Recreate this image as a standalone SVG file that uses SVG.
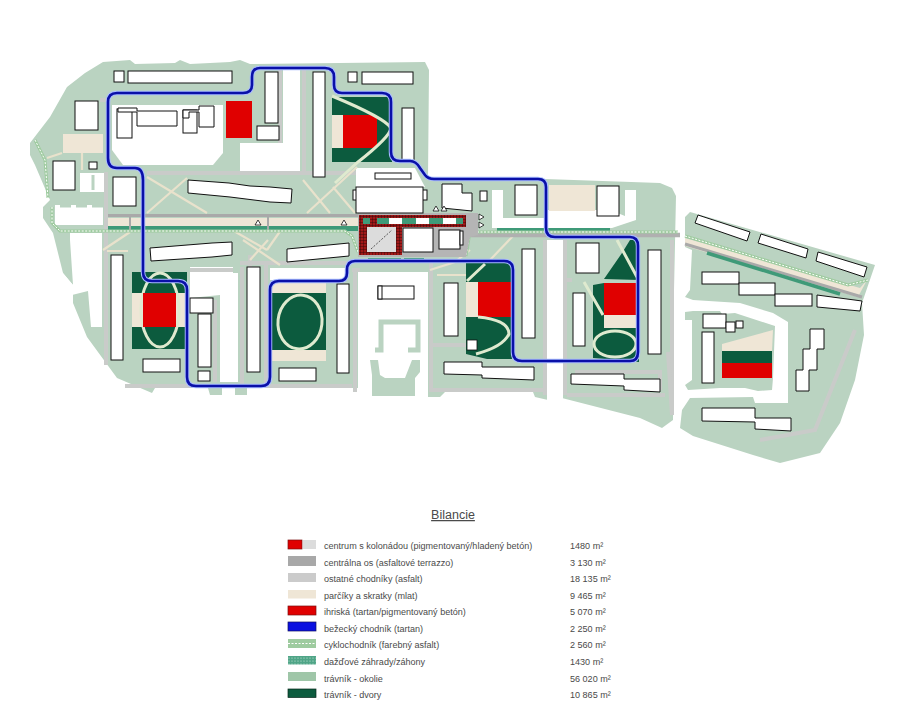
<svg xmlns="http://www.w3.org/2000/svg" width="900" height="720" viewBox="0 0 900 720">
<style>
.gr{fill:#bad3c1}
.wh{fill:#fff}
.rd{stroke:#c9cbc9;fill:none;stroke-width:4}
.pth{stroke:#e9e2cc;fill:none;stroke-width:2.2}
.bg{fill:#efe6d6}
.dk{fill:#0c5b3e}
.red{fill:#e00000}
.pale{fill:none;stroke:#dfeacf;stroke-width:3}
.b polygon,.b rect{fill:#fff;stroke:#111;stroke-width:1}
.cyc{fill:none;stroke:#9ecb9f;stroke-width:3}
.cycd{fill:none;stroke:#fff;stroke-width:1;stroke-dasharray:2 1.5}
.tl{fill:#3f9a78}
.tri{fill:#fff;stroke:#111;stroke-width:.8}
text{font-family:"Liberation Sans",Arial,sans-serif;fill:#4a4a4a;font-size:9.05px}
</style>
<defs>
<pattern id="brick" width="3" height="3" patternUnits="userSpaceOnUse"><rect width="3" height="3" fill="#a01818"/><path d="M0 0H3M0 0V3" stroke="#2a0808" stroke-width=".8"/></pattern>
<pattern id="dots" width="3" height="3" patternUnits="userSpaceOnUse"><rect width="3" height="3" fill="#4fa587"/><circle cx="1" cy="1" r=".6" fill="#cfe8dc"/></pattern>
</defs>
<rect width="900" height="720" fill="#fff"/>
<g id="ground">
<polygon class="gr" points="30,143 50,117 67,87 85,73 103,62 130,60 135,64 175,63 180,60 190,64 230,62 240,60 250,64 425,62 429,70 428,178 545,179 660,183 672,188 676,196 674,290 673,420 662,428 640,418 558,397 548,400 535,397 533,392 445,392 440,397 428,397 425,388 345,388 358,395 372,395 358,395 345,388 247,388 247,395 235,395 235,388 222,388 222,395 210,395 208,388 155,388 152,393 117,378 87,337 73,303 73,285 63,273 53,233 43,218 43,207 50,200 35,165 30,155"/>
<polygon class="gr" points="685,217 690,212 697,214 875,265 862,303 864,335 855,380 840,423 820,453 780,463 753,455 693,436 680,428 682,410 690,398 753,397 755,403 788,403 788,322 773,313 740,303 693,300 685,297 690,290 692,250 685,247"/>
<polygon class="gr" points="685,312 693,311 720,311 722,314 735,313 775,326 773,378 772,390 758,391 745,388 720,388 688,390 685,385 692,380 692,320 685,320"/>
<g class="wh">
<polygon points="112,105 223,105 223,153 213,165 123,165 112,150"/>
<polygon points="283,70 300,70 300,172 240,172 240,143 283,143"/>
<polygon points="356,168 415,168 425,187 356,187"/>
<polygon points="492,190 503,190 503,218 545,218 545,210 610,210 625,216 625,190 636,190 636,220 612,228 492,228"/>
<rect x="80" y="173" width="26" height="19"/>
<rect x="55" y="205" width="48" height="20"/>
<polygon points="70,233 102,233 102,327 91,327 88,291 72,295 55,295 55,270 62,272 73,285 72,270 70,240"/>
<polygon points="190,267 233,267 233,273 238,273 238,382 220,382 220,295 190,298"/>
<rect x="270" y="268" width="77" height="12"/>
<rect x="358" y="272" width="70" height="128"/>
<rect x="547" y="240" width="16" height="162"/>
</g>
<path d="M375,350H381V322H418V350H408" fill="none" stroke="#bad3c1" stroke-width="5"/>
<polygon class="gr" points="370,360 378,360 380,375 385,378 405,378 412,360 420,360 420,372 415,378 415,396 372,396 372,375"/>
<path d="M93,175V190M85,194Q93,200 100,194" fill="none" stroke="#bad3c1" stroke-width="3"/>
<path d="M60,206H103" stroke="#bad3c1" stroke-width="3" stroke-dasharray="11 5" fill="none"/>
</g>
<g id="paths">
<path class="rd" d="M147,173H356M106,172V365M304,70V172M280,70V143M108,100H100M250,255V268M242,267V386M266,262V386M125,386H352M355,272V392M352,270H360M431,262V392M431,345H466M431,390H545M545,240V395M565,240V395M565,280H572M575,372H660V390M567,395H665M672,240V415M240,263H347M215,300V382M190,270H233"/>
<path class="rd" d="M668,352L672,415M855,330L815,430L760,440" stroke-width="2.5"/>
<path class="pth" d="M147,177L207,213M147,213L187,178M303,180L330,213M307,213L357,167M333,187L355,213M103,250L130,232M107,251H128M227,227L267,250M267,250L283,227M243,240L280,265M250,260L268,240M470,250L455,262L430,270M515,234L490,260M47,158L62,153M82,153V170M437,275H466"/>
<rect class="bg" x="63" y="134" width="40" height="19"/>
<rect class="bg" x="549" y="185" width="46" height="26"/>
<rect x="108" y="214" width="250" height="3" fill="#a9a9a9"/>
<rect class="bg" x="108" y="218" width="250" height="8"/>
<rect class="tl" x="108" y="226" width="250" height="5"/>
<path d="M130,217V232M268,217V232" stroke="#a9a9a9" stroke-width="2"/>
<path d="M470,235H680" stroke="#b0b0b0" stroke-width="4.5" fill="none"/>
<rect class="tl" x="497" y="228" width="50" height="3"/>
<rect class="tl" x="547" y="228" width="63" height="3"/>
<polygon class="bg" points="685,238 860,288 867,280 858,297 685,246"/>
<path d="M685,244L862,297" stroke="#a9a9a9" stroke-width="3" fill="none"/>
<path d="M707,253L840,294" stroke="#3f9a78" stroke-width="3.5" fill="none"/>
<path class="cyc" d="M35,140L45,160L48,198M52,207V223L60,231H345L352,236L358,252M470,232L466,256M470,232H678M685,236L848,285L868,280"/>
<path class="cycd" d="M35,140L45,160L48,198M52,207V223L60,231H345L352,236L358,252M470,232L466,256M470,232H678M685,236L848,285L868,280"/>
<rect class="tl" x="368" y="258" width="33" height="4"/>
<rect class="tl" x="404" y="258" width="20" height="4"/>
</g>
<g id="fields">
<polygon class="dk" points="332,97 390,97 392,162 332,162"/>
<rect class="bg" x="332" y="115" width="11" height="33"/>
<rect class="red" x="343" y="115" width="34" height="33"/>
<path class="pale" d="M332,96Q385,118 391,128Q390,137 358,162L335,183"/>
<rect class="red" x="226" y="101" width="26" height="37"/>
<rect class="dk" x="132" y="272" width="55" height="77"/>
<rect class="bg" x="132" y="293" width="53" height="34"/>
<ellipse class="pale" cx="160" cy="310" rx="19" ry="37"/>
<rect class="red" x="143" y="293" width="33" height="34"/>
<rect class="bg" x="272" y="283" width="54" height="78"/>
<rect class="dk" x="270" y="293" width="56" height="57"/>
<ellipse class="pale" cx="300" cy="322" rx="22" ry="27" transform="rotate(6 300 322)"/>
<polygon class="dk" points="466,262 512,262 512,359 487,359 466,354"/>
<rect class="bg" x="466" y="282" width="12" height="35"/>
<rect class="red" x="478" y="282" width="33" height="35"/>
<path class="pale" d="M467,281L485,264M478,317Q509,320 509,334Q503,347 476,354"/>
<rect x="467" y="340" width="10" height="10" fill="#fff" stroke="#111" stroke-width=".8"/>
<polygon class="dk" points="630,240 639,240 639,280 604,279 622,253"/>
<polygon class="dk" points="593,285 604,283 639,283 639,362 593,358"/>
<rect class="red" x="604" y="283" width="33" height="32"/>
<rect class="bg" x="604" y="315" width="33" height="13"/>
<ellipse cx="615" cy="344" rx="21" ry="13" fill="#0c5b3e" stroke="#dfeacf" stroke-width="3"/>
<path class="pale" d="M584,282L603,315M617,240L637,277"/>
<polygon class="bg" points="722,344 773,330 772,351 722,351"/>
<rect class="dk" x="722" y="351" width="50" height="12"/>
<rect class="red" x="722" y="363" width="50" height="15"/>
</g>
<g id="center">
<polygon points="358,213 478,213 478,235 470,237 466,257 358,257" fill="#b5b5b5"/>
<polygon points="359,215 466,215 466,227 402,227 402,255 359,255" fill="url(#brick)"/>
<rect class="tl" x="363" y="218" width="7" height="6"/>
<rect class="tl" x="377" y="218" width="12" height="6"/>
<rect x="389" y="218" width="13" height="6" fill="#fff"/>
<rect class="tl" x="402" y="218" width="14" height="6"/>
<rect x="416" y="218" width="13" height="6" fill="#fff"/>
<rect class="tl" x="429" y="218" width="14" height="6"/>
<rect x="443" y="218" width="13" height="6" fill="#fff"/>
<rect class="tl" x="456" y="218" width="7" height="6"/>
<rect x="367" y="227" width="29" height="25" fill="#dcdcdc"/>
<path d="M371,249L392,230" stroke="#333" stroke-width=".8" stroke-dasharray="2 1.5"/>
</g>
<g id="buildings" class="b">
<rect x="114" y="71" width="10" height="11"/>
<rect x="128" y="71" width="104" height="12"/>
<rect x="75" y="101" width="23" height="29"/>
<rect x="53" y="161" width="22" height="29"/>
<rect x="89" y="162" width="8" height="7"/>
<rect x="113" y="177" width="23" height="29"/>
<rect x="117" y="109" width="15" height="29"/>
<polygon points="118,108 137,108 137,111 177,111 177,126 137,126 137,112 118,112"/>
<rect x="183" y="110" width="14" height="23"/>
<polygon points="183,110 199,110 199,106 214,106 214,127 199,127 199,112 189,112 189,118 183,118"/>
<rect x="265" y="72" width="13" height="51"/>
<rect x="257" y="126" width="22" height="14"/>
<rect x="313" y="72" width="12" height="105"/>
<polygon points="188,180 229,183 250,186 270,187 292,189 291,203 270,202 230,197 188,193"/>
<rect x="348" y="72" width="9" height="10"/>
<rect x="362" y="72" width="51" height="12"/>
<rect x="402" y="108" width="12" height="53"/>
<rect x="375" y="173" width="36" height="6"/>
<rect x="353" y="190" width="74" height="10"/>
<rect x="356" y="187" width="67" height="26"/>
<polygon points="442,184 462,184 462,193 472,193 472,211 442,208"/>
<rect x="480" y="191" width="7" height="10"/>
<rect x="515" y="185" width="22" height="30"/>
<rect x="597" y="186" width="22" height="30"/>
<rect x="403" y="228" width="30" height="24"/>
<rect x="439" y="230" width="21" height="19"/>
<rect x="460" y="231" width="3" height="14"/>
<rect x="111" y="255" width="12" height="105"/>
<polygon points="150,248 212,243 232,242 232,255 212,257 151,261"/>
<polygon points="287,249 349,243 349,256 287,262"/>
<rect x="190" y="298" width="23" height="15"/>
<rect x="198" y="314" width="13" height="53"/>
<rect x="198" y="371" width="12" height="10"/>
<rect x="247" y="267" width="13" height="105"/>
<rect x="279" y="368" width="37" height="13"/>
<rect x="143" y="359" width="37" height="13"/>
<rect x="337" y="284" width="12" height="89"/>
<rect x="378" y="286" width="36" height="13"/>
<rect x="378" y="286" width="4" height="13"/>
<rect x="444" y="283" width="14" height="53"/>
<rect x="522" y="249" width="13" height="89"/>
<polygon points="444,362 482,362 482,367 534,367 534,380 482,378 482,375 444,374"/>
<rect x="576" y="243" width="23" height="30"/>
<rect x="573" y="293" width="12" height="53"/>
<rect x="648" y="250" width="13" height="104"/>
<polygon points="571,374 624,374 624,379 660,379 660,392 624,390 624,386 571,384"/>
<polygon points="698,215 750,232 747,241 695,223"/>
<polygon points="761,234 808,249 806,258 758,243"/>
<polygon points="818,252 867,267 864,277 816,261"/>
<rect x="702" y="272" width="37" height="12"/>
<rect x="739" y="283" width="36" height="12"/>
<rect x="775" y="294" width="37" height="12"/>
<polygon points="817,295 862,301 860,311 817,307"/>
<rect x="703" y="314" width="23" height="14"/>
<rect x="726" y="322" width="9" height="10"/>
<rect x="736" y="321" width="7" height="7"/>
<rect x="702" y="332" width="12" height="51"/>
<polygon points="810,329 824,329 824,349 817,349 817,370 809,370 809,391 796,391 796,370 803,370 803,349 810,349"/>
<polygon points="702,408 755,408 755,418 791,418 791,431 755,429 755,422 702,421"/>
</g>
<g id="markers">
<polygon class="tri" points="258,220 261,225 255,225"/>
<polygon class="tri" points="344,220 347,225 341,225"/>
<polygon class="tri" points="436,206 439,211 433,211"/>
<polygon class="tri" points="444,206 447,211 441,211"/>
<polygon class="tri" points="479,214 484,217 479,220"/>
<polygon class="tri" points="479,222 484,225 479,228"/>
</g>
<g id="connectors">
<path d="M143,250V180Q143,168 135,168H117Q108,168 108,158V102Q108,93 117,93H243Q252,93 252,85V77Q252,68 260,68H325Q334,68 334,77V85Q334,93 342,93H382Q391,93 391,102V152Q391,161 400,161H410Q416,161 420,168L425,175Q428,179 434,179H538Q546,179 546,187V228Q546,237 555,237H630Q638,237 638,246V352Q638,361 630,361H522Q513,361 513,352V270Q513,261 504,261H355Q347,261 347,270V273Q347,281 339,281H279Q270,281 270,290V377Q270,386 261,386H196Q187,386 187,377V290Q187,281 178,281H152Q143,281 143,272Z" fill="none" stroke="#a9bcff" stroke-width="4.5"/>
<path d="M143,250V180Q143,168 135,168H117Q108,168 108,158V102Q108,93 117,93H243Q252,93 252,85V77Q252,68 260,68H325Q334,68 334,77V85Q334,93 342,93H382Q391,93 391,102V152Q391,161 400,161H410Q416,161 420,168L425,175Q428,179 434,179H538Q546,179 546,187V228Q546,237 555,237H630Q638,237 638,246V352Q638,361 630,361H522Q513,361 513,352V270Q513,261 504,261H355Q347,261 347,270V273Q347,281 339,281H279Q270,281 270,290V377Q270,386 261,386H196Q187,386 187,377V290Q187,281 178,281H152Q143,281 143,272Z" fill="none" stroke="#0a10a8" stroke-width="2.6"/>
</g>
<g id="legend">
<text x="453" y="519" text-anchor="middle" style="font-size:12.5px" text-decoration="underline">Bilancie</text>
<g id="l1"><rect x="288" y="540" width="14" height="9" fill="#e00000" stroke="#7a1010" stroke-width=".7"/><rect x="303" y="540" width="13" height="9" fill="#dcdcdc"/><text x="324" y="549">centrum s kolonádou (pigmentovaný/hladený betón)</text><text x="570" y="549">1480 m²</text></g>
<g id="l2"><rect x="288" y="556" width="28" height="10" fill="#a8a8a8"/><text x="324" y="565.500">centrálna os (asfaltové terrazzo)</text><text x="570" y="565.500">3 130 m²</text></g>
<g id="l3"><rect x="288" y="573" width="28" height="9" fill="#cbcbcb"/><text x="324" y="582">ostatné chodníky (asfalt)</text><text x="570" y="582">18 135 m²</text></g>
<g id="l4"><rect x="288" y="590" width="28" height="8.500" fill="#efe6d6"/><text x="324" y="598.500">parčíky a skratky (mlat)</text><text x="570" y="598.500">9 465 m²</text></g>
<g id="l5"><rect x="288" y="606" width="28" height="9" fill="#e00000" stroke="#7a1010" stroke-width=".7"/><text x="324" y="615">ihriská (tartan/pigmentovaný betón)</text><text x="570" y="615">5 070 m²</text></g>
<g id="l6"><rect x="288" y="622" width="28" height="9" fill="#0a10e0" stroke="#101060" stroke-width=".7"/><text x="324" y="631.500">bežecký chodník (tartan)</text><text x="570" y="631.500">2 250 m²</text></g>
<g id="l7"><rect x="288" y="639" width="28" height="9" fill="#9ecb9f"/><path d="M288,643.500H316" stroke="#fff" stroke-width="1" stroke-dasharray="2 1.5"/><text x="324" y="648">cyklochodník (farebný asfalt)</text><text x="570" y="648">2 560 m²</text></g>
<g id="l8"><rect x="288" y="656" width="28" height="8.500" fill="url(#dots)"/><text x="324" y="665">dažďové záhrady/záhony</text><text x="570" y="665">1430 m²</text></g>
<g id="l9"><rect x="288" y="672" width="28" height="9" fill="#9fc6a8"/><text x="324" y="681.500">trávník - okolie</text><text x="570" y="681.500">56 020 m²</text></g>
<g id="l10"><rect x="288" y="689" width="28" height="8.500" fill="#0c5b3e" stroke="#06281c" stroke-width=".7"/><text x="324" y="698">trávník - dvory</text><text x="570" y="698">10 865 m²</text></g>
</g>
</svg>
